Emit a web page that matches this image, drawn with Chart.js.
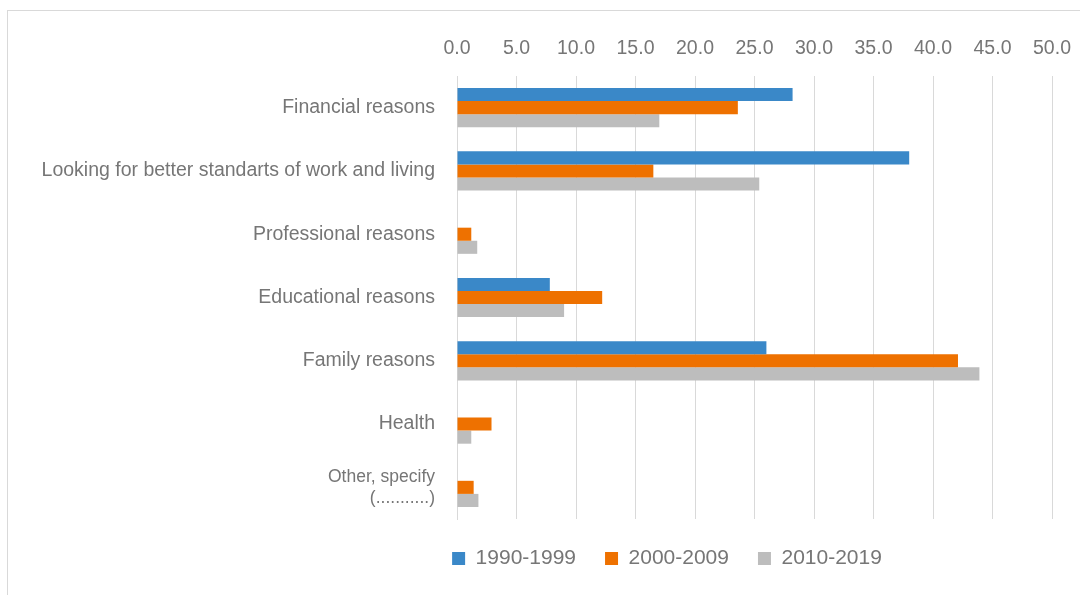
<!DOCTYPE html>
<html>
<head>
<meta charset="utf-8">
<script src="https://cdn.jsdelivr.net/npm/chart.js@4/dist/chart.umd.min.js"></script>
<style>
  html, body { margin: 0; padding: 0; background: #fff; }
  #frame {
    position: absolute; left: 7px; top: 10px; width: 1100px; height: 600px;
    border: 1px solid #d9d9d9; box-sizing: border-box;
  }
  #wrap { position: absolute; left: 0; top: 0; width: 1080px; height: 595px; }
</style>
</head>
<body>
<div id="frame"></div>
<div id="wrap"><canvas id="reasonsChart" width="1080" height="595"></canvas></div>
<script>
const reasons = [
    'Financial reasons',
    'Looking for better standarts of work and living',
    'Professional reasons',
    'Educational reasons',
    'Family reasons',
    'Health',
    ['Other, specify', '(...........)']
];
const decades = ['1990-1999', '2000-2009', '2010-2019'];
const share1990s = [28.2, 38.0, 0, 7.8, 26.0, 0, 0];
const share2000s = [23.6, 16.5, 1.2, 12.2, 42.1, 2.9, 1.4];
const share2010s = [17.0, 25.4, 1.7, 9.0, 43.9, 1.2, 1.8];
const xTicks = [0, 5, 10, 15, 20, 25, 30, 35, 40, 45, 50];

const colors = ['#3a88c8', '#ee7100', '#bdbdbd'];
const textGray = '#767676';
const lineGray = '#d9d9d9';
const fontFamily = '"Liberation Sans", Arial, sans-serif';

// nudge the legend row to the right of the canvas centre
const legendShift = {
    id: 'legendShift',
    afterLayout(chart) {
        const dx = 127;
        chart.legend.left += dx;
        chart.legend.right += dx;
    }
};

const ctx = document.getElementById('reasonsChart').getContext('2d');

const chart = new Chart(ctx, {
    type: 'bar',
    data: {
        labels: reasons,
        datasets: [share1990s, share2000s, share2010s].map((values, i) => ({
            label: decades[i],
            data: values,
            backgroundColor: colors[i],
            borderWidth: 0,
            categoryPercentage: 0.62,
            barPercentage: 1.0
        }))
    },
    options: {
        indexAxis: 'y',
        responsive: false,
        animation: false,
        layout: {
            padding: { left: 0, right: 0, top: 0, bottom: 16 }
        },
        scales: {
            x: {
                position: 'top',
                min: 0,
                max: 50,
                afterBuildTicks: (scale) => {
                    scale.ticks = xTicks.map(v => ({ value: v }));
                },
                afterFit: (scale) => {
                    scale.height = 76;
                    scale.paddingLeft = 0;
                    scale.paddingRight = 28;
                },
                ticks: {
                    color: textGray,
                    font: { family: fontFamily, size: 19.5 },
                    padding: 16,
                    callback: (v) => Number(v).toFixed(1)
                },
                grid: { color: lineGray, lineWidth: 1, drawTicks: false },
                border: { display: false }
            },
            y: {
                afterFit: (scale) => { scale.width = 457; },
                ticks: {
                    color: textGray,
                    padding: 22,
                    font: (c) => c.index === 6
                        ? { family: fontFamily, size: 17.5, lineHeight: 1.2 }
                        : { family: fontFamily, size: 19.5 }
                },
                grid: { display: false, drawTicks: false },
                border: { display: true, color: lineGray, width: 1 }
            }
        },
        plugins: {
            legend: {
                position: 'bottom',
                labels: {
                    color: textGray,
                    font: { family: fontFamily, size: 21 },
                    boxWidth: 13,
                    boxHeight: 13,
                    padding: 29
                }
            },
            tooltip: { enabled: false }
        }
    },
    plugins: [legendShift]
});
</script>
</body>
</html>
